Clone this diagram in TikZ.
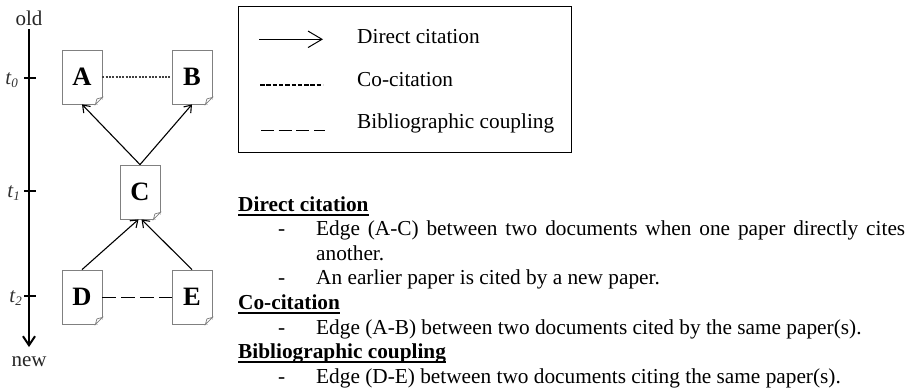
\documentclass[tikz,border=0pt]{standalone}
\usepackage{fontspec}
\usetikzlibrary{arrows.meta}
\setmainfont{Liberation Serif}
\newcommand{\docfold}[1]{\fill[white] ([xshift=-7pt]#1.south east) -- ([yshift=7pt]#1.south east) -- ([yshift=-1pt,xshift=1pt]#1.south east) -- cycle;
 \draw[black!50,line width=.7pt] ([xshift=-7pt]#1.south east) -- ([yshift=7pt]#1.south east) -- ([xshift=-5.5pt,yshift=5.5pt]#1.south east) -- cycle;}
\newcommand{\hul}[1]{\setbox0=\hbox{#1}\rlap{\rule[-4.8pt]{\wd0}{2pt}}\box0}
\newcommand{\tlabel}[1]{t\raisebox{-3.5pt}{\fontsize{13}{13}\selectfont #1}}
\begin{document}
\begin{tikzpicture}[x=1pt,y=-1pt,
  doc/.style={draw=black!50,fill=white,line width=.8pt,minimum width=40pt,minimum height=54pt,inner sep=0pt,font=\fontsize{26.5}{26.5}\selectfont\bfseries},
  txt/.style={anchor=base west,inner sep=0pt,font=\fontsize{21.3}{21.3}\selectfont},
  head/.style={txt,font=\fontsize{21.3}{21.3}\selectfont\bfseries},
  axlab/.style={anchor=base,inner sep=0pt,font=\fontsize{21}{21}\selectfont,text=black!85},
  tlab/.style={anchor=base east,inner sep=0pt,font=\fontsize{21}{21}\selectfont\itshape,text=black!80},
  cite/.style={line width=1.1pt,-{Straight Barb[length=6.5pt,width=9.5pt,line width=1.1pt]}},
  tick/.style={line width=1.2pt},
  longdash/.style={line width=1.3pt,dash pattern=on 13.5pt off 5.5pt}]
\useasboundingbox (0,0) rectangle (914,389);
\fill[white] (0,0) rectangle (914,389);
\node[axlab] (old) at (29,25) {old};
\node[axlab] (new) at (29,366) {new};
\coordinate (top) at (29,29);
\coordinate (bot) at (29,347);
\draw[line width=2pt,-{Straight Barb[length=9pt,width=12pt,line width=2pt]}] (top) -- (bot);
\foreach \n/\y/\s/\xr in {t0/78/0/18,t1/191/1/20,t2/296/2/22}{
  \coordinate (\n a) at (24,\y); \coordinate (\n b) at (36,\y);
  \draw[tick] (\n a) -- (\n b);
  \node[tlab] (\n l) at (\xr,\y+6) {\tlabel{\s}};
}
\node[doc] (A) at (82,77) {A};
\node[doc] (B) at (192,77) {B};
\node[doc] (C) at (140,192) {C};
\node[doc] (D) at (82,297) {D};
\node[doc] (E) at (192,297) {E};
\foreach \n in {A,B,C,D,E}{\docfold{\n}}
\draw[line width=1.2pt,black!75,dash pattern=on 2pt off 1.3pt] (A.east) -- (B.west);
\draw[longdash] ([yshift=-.3pt]D.east) -- ([yshift=-.3pt]E.west);
\draw[cite] (C.north) -- (A.south);
\draw[cite] (C.north) -- (B.south);
\draw[cite] (D.north) -- ([xshift=-1.5pt]C.south);
\draw[cite] (E.north) -- ([xshift=1.5pt]C.south);
\node[draw,line width=1pt,minimum width=333pt,minimum height=146pt,inner sep=0pt,anchor=north west] (legend) at (238,6) {};
\coordinate (l1a) at (259,39.3); \coordinate (l1b) at (323,39.3);
\coordinate (l2a) at (260,85); \coordinate (l2b) at (323,85);
\coordinate (l3a) at (261,130.3); \coordinate (l3b) at (325,130.3);
\draw[line width=1pt,-{Straight Barb[length=14pt,width=16.5pt,line width=1pt]}] (l1a) -- (l1b);
\draw[line width=1.3pt,dash pattern=on 4.5pt off 1.8pt] (l2a) -- (l2b);
\draw[line width=1.3pt,dash pattern=on 13pt off 4.7pt] (l3a) -- (l3b);
\node[txt] (k1) at (357,43) {Direct citation};
\node[txt] (k2) at (357,86) {Co-citation};
\node[txt] (k3) at (357,128) {Bibliographic coupling};
\node[head] (h1) at (238,211) {\hul{Direct citation}};
\node[txt] (d1) at (278,235) {-};
\node[txt] (x1) at (316,235) {\makebox[589pt][s]{Edge (A-C) between two documents when one paper directly cites}};
\node[txt] (x2) at (316,260) {another.};
\node[txt] (d2) at (278,284) {-};
\node[txt] (x3) at (316,284) {An earlier paper is cited by a new paper.};
\node[head] (h2) at (238,309) {\hul{Co-citation}};
\node[txt] (d3) at (278,334) {-};
\node[txt] (x4) at (316,334) {Edge (A-B) between two documents cited by the same paper(s).};
\node[head] (h3) at (238,358) {\hul{Bibliographic coupling}};
\node[txt] (d4) at (278,383) {-};
\node[txt] (x5) at (316,383) {Edge (D-E) between two documents citing the same paper(s).};
\end{tikzpicture}
\end{document}
